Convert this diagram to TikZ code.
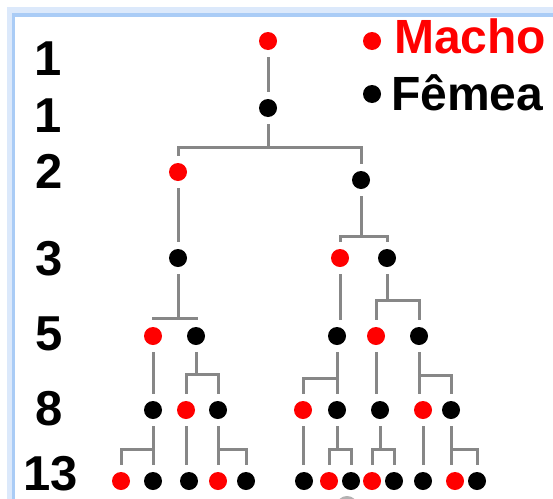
\documentclass[tikz,border=0pt]{standalone}
\usepackage{fontspec}
\setmainfont{Liberation Sans}
\definecolor{linkgray}{RGB}{135,135,135}
\definecolor{framecore}{RGB}{170,204,246}
\definecolor{frameglow}{RGB}{220,233,251}
\begin{document}
\begin{tikzpicture}[x=1pt,y=-1pt,
  male/.style={circle,fill=red,minimum size=18pt,inner sep=0pt},
  female/.style={circle,fill=black,minimum size=18pt,inner sep=0pt},
  link/.style={draw=linkgray,line width=3pt,shorten <=7pt,shorten >=7pt},
  gen/.style={font=\fontsize{49}{49}\selectfont\bfseries,anchor=base,inner sep=0pt},
  legend/.style={font=\fontsize{48}{48}\selectfont\bfseries,anchor=base west,inner sep=0pt}]
\useasboundingbox (0,0) rectangle (553,498);
\clip (0,0) rectangle (553,498);
\fill[white] (0,0) rectangle (553,498);

% window frame
\draw[frameglow,line width=6pt] (9.5,560) -- (9.5,10) -- (600,10);
\draw[framecore,line width=3.5pt] (13.5,560) -- (13.5,15) -- (600,15);

% generation counts
\node[gen] (n1) at (48,75) {1};
\node[gen] (n2) at (48,132) {1};
\node[gen] (n3) at (49.5,188) {2};
\node[gen] (n4) at (49.5,275) {3};
\node[gen] (n5) at (49.5,350) {5};
\node[gen] (n6) at (49.5,425) {8};
\node[gen] (n7) at (50.5,490) {13};

% legend
\node[male] (lm) at (372,41) {};
\node[female] (lf) at (372,94) {};
\node[legend,text=red] (tm) at (394,53) {Macho};
\node[legend] (tf) at (391,110) {Fêmea};

% family tree
\node[male] (a1) at (268,41) {};
\node[female] (b1) at (268,108) {};
\node[male] (c1) at (178,172) {};
\node[female] (c2) at (361,180) {};
\node[female] (d1) at (178,258) {};
\node[male] (d2) at (340,258) {};
\node[female] (d3) at (387,258) {};
\node[male] (e1) at (153,336) {};
\node[female] (e2) at (196,336) {};
\node[female] (e3) at (337,336) {};
\node[male] (e4) at (376,336) {};
\node[female] (e5) at (419,336) {};
\node[female] (f1) at (153,410) {};
\node[male] (f2) at (186,410) {};
\node[female] (f3) at (218,410) {};
\node[male] (f4) at (303,410) {};
\node[female] (f5) at (337,410) {};
\node[female] (f6) at (380,410) {};
\node[male] (f7) at (423,410) {};
\node[female] (f8) at (451,410) {};
\node[male] (g1) at (121,481) {};
\node[female] (g2) at (153,481) {};
\node[female] (g3) at (189,481) {};
\node[male] (g4) at (218,481) {};
\node[female] (g5) at (246,481) {};
\node[female] (g6) at (304,481) {};
\node[male] (g7) at (329,481) {};
\node[female] (g8) at (351,481) {};
\node[male] (g9) at (372,481) {};
\node[female] (g10) at (394,481) {};
\node[female] (g11) at (423,481) {};
\node[male] (g12) at (455,481) {};
\node[female] (g13) at (477,481) {};

% connectors
\draw[link] (a1) -- (b1);
\draw[link] (b1) -- (b1 |- 0,147) -| (c1);
\draw[link] (b1) -- (b1 |- 0,147) -| (c2);
\draw[link] (c1) -- (d1);
\draw[link] (c2) -- (c2 |- 0,236) -| (d2);
\draw[link] (c2) -- (c2 |- 0,236) -| (d3);
\draw[link] (d1) -- (d1 |- 0,318) -| (e1);
\draw[link] (d1) -- (d1 |- 0,318) -| (e2);
\draw[link] (d2) -- (d2 |- e3.north);
\draw[link] (d3) -- (d3 |- 0,300) -| (e4);
\draw[link] (d3) -- (d3 |- 0,300) -| (e5);
\draw[link] (e1) -- (f1);
\draw[link] (e2) -- (e2 |- 0,374) -| (f2);
\draw[link] (e2) -- (e2 |- 0,374) -| (f3);
\draw[link] (e3) -- (e3 |- 0,378) -| (f4);
\draw[link] (e3) -- (f5);
\draw[link] (e4) -- (e4 |- f6.north);
\draw[link] (e5) -- (e5 |- f7.north);
\draw[link] (e5) -- (e5 |- 0,375) -| (f8);
\draw[link] (f1) -- (f1 |- 0,449) -| (g1);
\draw[link] (f1) -- (g2);
\draw[link] (f2) -- (f2 |- g3.north);
\draw[link] (f3) -- (g4);
\draw[link] (f3) -- (f3 |- 0,449) -| (g5);
\draw[link] (f4) -- (f4 |- g6.north);
\draw[link] (f5) -- (f5 |- 0,449) -| (g7);
\draw[link] (f5) -- (f5 |- 0,449) -| (g8);
\draw[link] (f6) -- (f6 |- 0,449) -| (g9);
\draw[link] (f6) -- (f6 |- 0,449) -| (g10);
\draw[link] (f7) -- (f7 |- g11.north);
\draw[link] (f8) -- (f8 |- g12.north);
\draw[link] (f8) -- (f8 |- 0,449) -| (g13);

% edge of a shape cut off below
\fill[gray!60] (347,505) ellipse [x radius=10pt, y radius=9pt];
\end{tikzpicture}
\end{document}
